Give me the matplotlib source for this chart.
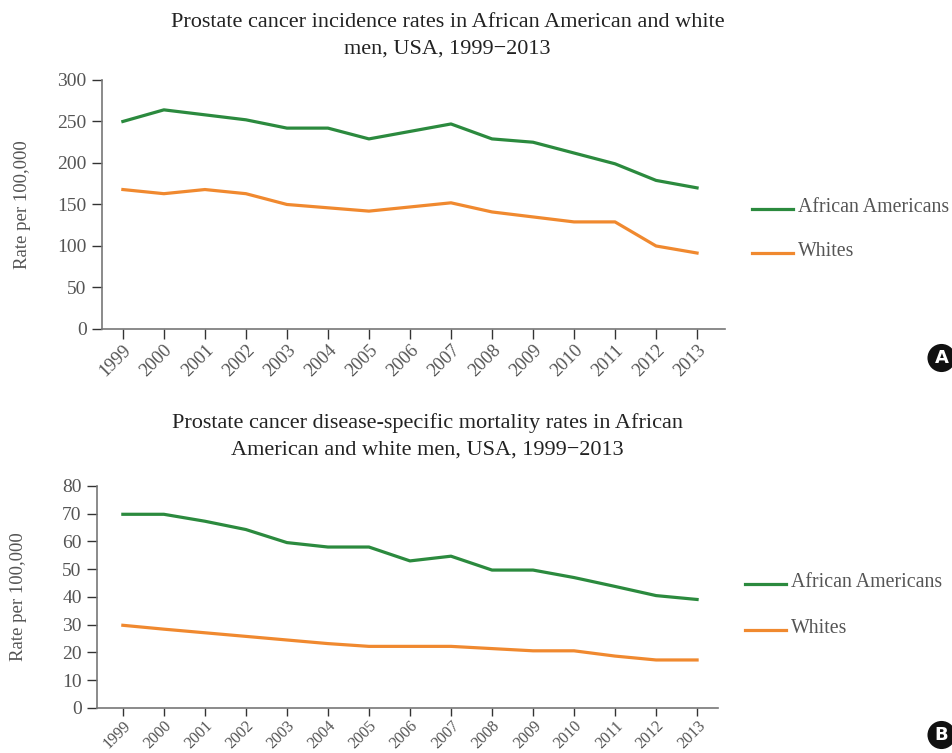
import numpy as np
import matplotlib
matplotlib.use('Agg')
import matplotlib.pyplot as plt

# Daten
years = list(range(1999, 2014))
incid_aa = [250, 264, 258, 252, 242, 242, 229, 238, 247, 229, 225, 212, 199, 179, 170]
incid_wh = [168, 163, 168, 163, 150, 146, 142, 147, 152, 141, 135, 129, 129, 100, 91.5]
mort_aa = [69.8, 69.8, 67.3, 64.3, 59.6, 58.0, 58.0, 53.0, 54.7, 49.7, 49.7, 47.0, 43.8, 40.5, 39.1]
mort_wh = [29.8, 28.4, 27.1, 25.8, 24.5, 23.2, 22.2, 22.2, 22.2, 21.4, 20.6, 20.6, 18.7, 17.3, 17.3]

series_labels = ['African Americans', 'Whites']
title_a = 'Prostate cancer incidence rates in African American and white\nmen, USA, 1999\u22122013'
title_b = 'Prostate cancer disease-specific mortality rates in African\nAmerican and white men, USA, 1999\u22122013'

green = '#2b8a3e'
orange = '#f0892f'
txt = '#555555'

plt.rcParams['font.family'] = ['Liberation Serif', 'DejaVu Serif']

fig = plt.figure(figsize=(9.52, 7.53), dpi=100)


def panel(rect, aa, wh, ymax, ystep, xlim, title, title_y, tx, leg_y, letter, letter_y,
          ylab_x, xfs=13.3, xpad=2, xlen=7):
    ax = fig.add_axes(rect)
    ax.plot(years, aa, color=green, lw=2.3, solid_joinstyle='round')
    ax.plot(years, wh, color=orange, lw=2.3, solid_joinstyle='round')
    ax.set_xlim(*xlim)
    ax.set_ylim(0, ymax)
    ax.set_yticks(np.arange(0, ymax + 1, ystep))
    ax.set_xticks(years)
    ax.set_xticklabels([str(y) for y in years], rotation=45, ha='right',
                       rotation_mode='anchor', fontsize=xfs, color=txt)
    ax.tick_params(axis='y', labelsize=14, labelcolor=txt, length=7, width=1, color='#333333', pad=4)
    ax.tick_params(axis='x', length=xlen, width=1, color='#333333', pad=xpad)
    for s in ['top', 'right']:
        ax.spines[s].set_visible(False)
    for s in ['left', 'bottom']:
        ax.spines[s].set_color('#777777')
        ax.spines[s].set_linewidth(1.2)
    fig.text(tx, title_y, title, ha='center', va='center', fontsize=16,
             color='#222222', linespacing=1.55)
    fig.text(ylab_x, rect[1] + rect[3] / 2, 'Rate per 100,000', rotation=90,
             ha='center', va='center', fontsize=13.5, color=txt)
    # Legende
    lx0 = (rect[0] + rect[2]) + 0.0285
    for i, (lab, col) in enumerate(zip(series_labels, [green, orange])):
        yy = leg_y[i]
        fig.add_artist(plt.Line2D([lx0, lx0 + 0.043], [yy, yy], color=col, lw=2.3,
                                  transform=fig.transFigure))
        fig.text(lx0 + 0.048, yy + 0.002, lab, ha='left', va='center', fontsize=14.3, color=txt)
    # Buchstabe A / B
    fig.text(0.989, letter_y, letter, ha='center', va='center', fontsize=13,
             fontweight='bold', color='white', family='DejaVu Sans',
             bbox=dict(boxstyle='circle,pad=0.28', fc='#111111', ec='none'))
    return ax


panel([0.1071, 0.5631, 0.6544, 0.3307], incid_aa, incid_wh, 300, 50,
      (1998.49, 2013.68), title_a, 0.952, 0.470, [1 - 209 / 753, 1 - 253 / 753],
      'A', 1 - 358 / 753, 0.024)
panel([0.1019, 0.0598, 0.6523, 0.2948], mort_aa, mort_wh, 80, 10,
      (1998.37, 2013.51), title_b, 0.420, 0.449, [1 - 584 / 753, 1 - 630 / 753],
      'B', 1 - 735 / 753, 0.019, xfs=11.6, xpad=1, xlen=6)

fig.savefig('out.png', dpi=100)
